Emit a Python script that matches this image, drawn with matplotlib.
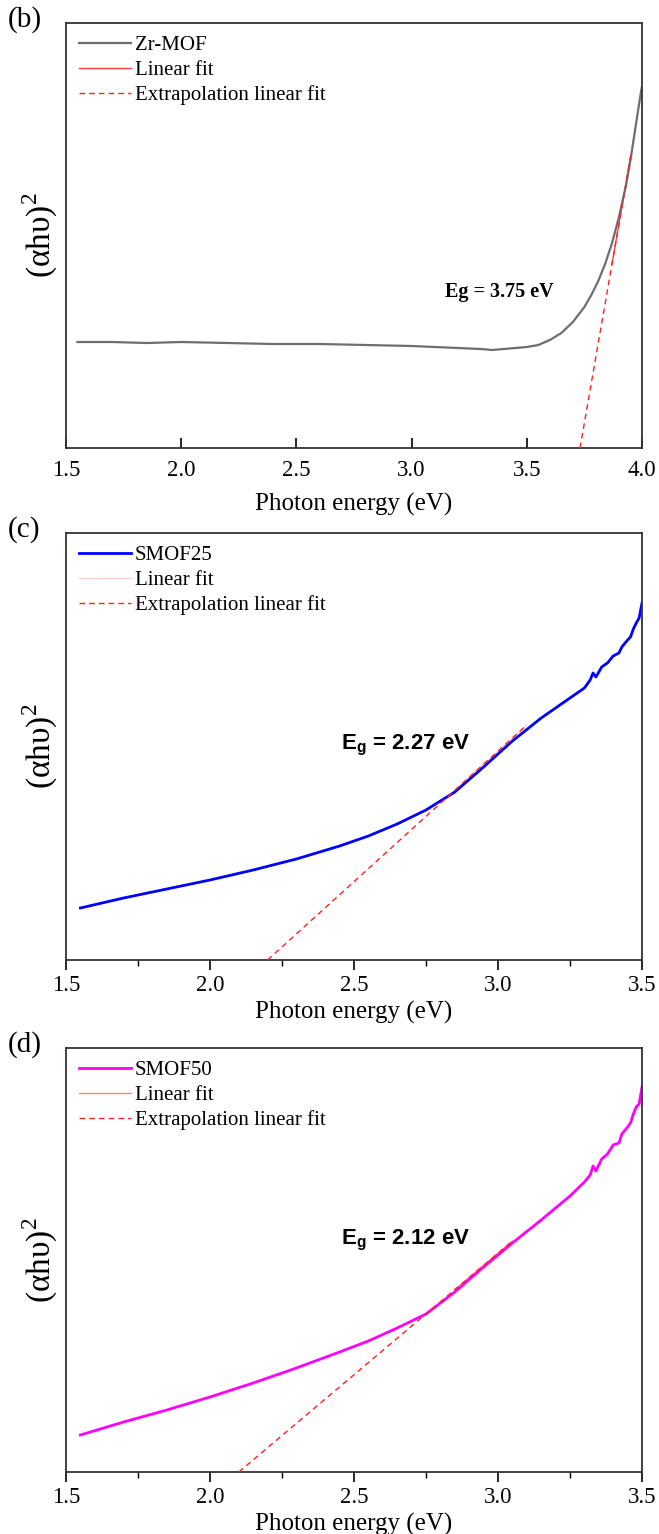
import matplotlib
matplotlib.use("Agg")
import matplotlib.pyplot as plt
from matplotlib.ticker import MultipleLocator, NullLocator, FormatStrFormatter

plt.rcParams['font.family'] = ['Liberation Serif', 'DejaVu Serif']
plt.rcParams['mathtext.fontset'] = 'custom'
plt.rcParams['mathtext.rm'] = 'Liberation Serif'

# ---- Panel (b): Zr-MOF ----
zr_x = [1.55, 1.7, 1.85, 2.0, 2.2, 2.4, 2.6, 2.8, 3.0, 3.1, 3.2, 3.3, 3.35, 3.4, 3.45,
        3.5, 3.55, 3.6, 3.65, 3.7, 3.75, 3.78, 3.81, 3.84, 3.87, 3.9, 3.93, 3.95, 3.97, 3.99, 4.0]
zr_y = [106, 106, 105, 106, 105, 104, 104, 103, 102, 101, 100, 99, 98, 99, 100,
        101, 103, 108, 115, 126, 141, 153, 167, 184, 205, 231, 262, 288, 318, 348, 362]
zr_fit_x = [3.731, 3.952]
zr_fit_y = [0, 293]
zr_solid_x = [3.87, 3.952]

# ---- Panel (c): SMOF25 ----
s25_x = [1.55, 1.7, 1.85, 2.0, 2.15, 2.3, 2.45, 2.55, 2.65, 2.75, 2.85, 2.95, 3.05, 3.15,
         3.25, 3.3, 3.32, 3.33, 3.34, 3.36, 3.38, 3.40, 3.42, 3.43, 3.45, 3.46, 3.47, 3.48, 3.49, 3.5]
s25_y = [52, 62, 71, 80, 90, 101, 114, 124, 136, 150, 168, 193, 219, 242,
         262, 272, 280, 287, 283, 293, 297, 304, 307, 313, 320, 323, 331, 337, 342, 357]
s25_fit_x = [2.2, 3.1]
s25_fit_y = [0, 235]
s25_solid_x = [2.85, 3.1]

# ---- Panel (d): SMOF50 ----
s50_x = [1.55, 1.7, 1.85, 2.0, 2.15, 2.3, 2.45, 2.55, 2.65, 2.75, 2.85, 2.95, 3.05, 3.15,
         3.25, 3.3, 3.32, 3.33, 3.34, 3.36, 3.38, 3.40, 3.42, 3.43, 3.45, 3.46, 3.47, 3.48, 3.49, 3.5]
s50_y = [37, 50, 62, 75, 89, 104, 120, 131, 144, 158, 180, 205, 229, 252,
         276, 290, 297, 306, 301, 313, 318, 327, 329, 338, 345, 349, 358, 365, 368, 385]
s50_fit_x = [2.1, 3.05]
s50_fit_y = [0, 231]
s50_solid_x = [2.85, 3.05]

W, H = 659, 1534
fig = plt.figure(figsize=(W / 100, H / 100), dpi=100)


def add_ax(top, bottom, left=66, right=642):
    return fig.add_axes([left / W, 1 - bottom / H, (right - left) / W, (bottom - top) / H])


def interp_line(xs, ys, x):
    return ys[0] + (ys[1] - ys[0]) * (x - xs[0]) / (xs[1] - xs[0])


panels = [
    dict(top=23, bottom=448, x=zr_x, y=zr_y, color='#6e6e6e', lw=1.6, name='Zr-MOF',
         fit_x=zr_fit_x, fit_y=zr_fit_y, solid_x=zr_solid_x, fitcolor='#ff4040',
         xlim=(1.5, 4.0), ylim=(0, 425), label='(b)', eg='Eg = 3.75 eV', egpos=(3.38, 156),
         egfont=['Liberation Serif'], egsize=14.5, minor=False),
    dict(top=533, bottom=960, x=s25_x, y=s25_y, color='#0000ff', lw=2.0, name='SMOF25',
         fit_x=s25_fit_x, fit_y=s25_fit_y, solid_x=s25_solid_x, fitcolor='#ffd0d0',
         xlim=(1.5, 3.5), ylim=(0, 427), label='(c)', eg=r'E$_\mathregular{g}$ = 2.27 eV', egpos=(2.68, 215),
         egfont=['Liberation Sans', 'DejaVu Sans'], egsize=16, minor=True),
    dict(top=1048, bottom=1472, x=s50_x, y=s50_y, color='#ff00ff', lw=2.0, name='SMOF50',
         fit_x=s50_fit_x, fit_y=s50_fit_y, solid_x=s50_solid_x, fitcolor='#ff8080',
         xlim=(1.5, 3.5), ylim=(0, 424), label='(d)', eg=r'E$_\mathregular{g}$ = 2.12 eV', egpos=(2.68, 232),
         egfont=['Liberation Sans', 'DejaVu Sans'], egsize=16, minor=True),
]

for p in panels:
    ax = add_ax(p['top'], p['bottom'])
    l1, = ax.plot(p['x'], p['y'], color=p['color'], lw=p['lw'], label=p['name'])
    sx = p['solid_x']
    sy = [interp_line(p['fit_x'], p['fit_y'], v) for v in sx]
    l2, = ax.plot(sx, sy, color=p['fitcolor'], lw=1.0, label='Linear fit', zorder=1)
    l3, = ax.plot(p['fit_x'], p['fit_y'], color='#ff2020', lw=1.0, ls=(0, (4, 3)),
                  label='Extrapolation linear fit', zorder=3)
    ax.set_xlim(*p['xlim'])
    ax.set_ylim(*p['ylim'])
    ax.yaxis.set_major_locator(NullLocator())
    ax.xaxis.set_major_locator(MultipleLocator(0.5))
    ax.xaxis.set_major_formatter(FormatStrFormatter('%.1f'))
    if p['minor']:
        ax.xaxis.set_minor_locator(MultipleLocator(0.25))
        ax.tick_params(axis='x', which='major', direction='out', length=7, width=1.2,
                       labelsize=16.5, pad=4)
        ax.tick_params(axis='x', which='minor', direction='out', length=4, width=1.0)
        xl_pad = 3
    else:
        ax.tick_params(axis='x', which='major', direction='in', length=7, width=1.2,
                       labelsize=16.5, pad=9)
        xl_pad = 8
    for s in ax.spines.values():
        s.set_linewidth(1.3)
        s.set_color('#333333')
    ax.set_xlabel('Photon energy (eV)', fontsize=18, labelpad=xl_pad)
    ax.set_ylabel(r'($\mathregular{\alpha h\upsilon}$)$^\mathregular{2}$', fontsize=24, labelpad=4)
    ax.legend(handles=[l1, l2, l3], loc='upper left', frameon=False, fontsize=15,
              handlelength=2.5, handletextpad=0.2, labelspacing=0.25,
              borderaxespad=0.2, bbox_to_anchor=(0.0, 1.0))
    ax.text(p['egpos'][0], p['egpos'][1], p['eg'], fontsize=p['egsize'], fontweight='bold',
            family=p['egfont'], ha='center', va='center')
    fig.text(8 / W, 1 - (p['top'] - 3) / H, p['label'], fontsize=21, ha='left', va='center')

fig.savefig('out.png', dpi=100)
